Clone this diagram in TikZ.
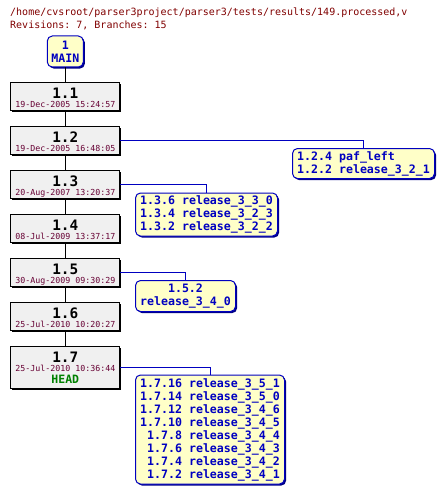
\documentclass[tikz,border=0pt]{standalone}
\usepackage{fontspec}
\setmonofont{DejaVu Sans Mono}
\usetikzlibrary{shadows}
\definecolor{titlecol}{HTML}{800000}
\definecolor{datecol}{HTML}{660033}
\definecolor{brblue}{HTML}{0000C0}
\definecolor{brfill}{HTML}{FFFFC8}
\definecolor{revfill}{HTML}{F0F0F0}
\definecolor{headgreen}{HTML}{008000}
\begin{document}
\begin{tikzpicture}[x=1pt,y=-1pt,
  titletext/.style={anchor=base west, inner sep=0pt, text=titlecol, font=\ttfamily\fontsize{10}{12}\selectfont},
  revbox/.style={draw=black, fill=revfill, line width=1pt, minimum width=109pt, minimum height=28pt, inner sep=0pt,
    drop shadow={shadow xshift=1.6pt, shadow yshift=-1.6pt, fill=black, opacity=1}},
  revnum/.style={anchor=base, inner sep=0pt, text=black, font=\ttfamily\bfseries\fontsize{14.4}{16}\selectfont},
  revdate/.style={anchor=base, inner sep=0pt, text=datecol, font=\ttfamily\fontsize{8.3}{10}\selectfont},
  revtag/.style={anchor=base, inner sep=0pt, text=headgreen, font=\ttfamily\bfseries\fontsize{11.5}{13}\selectfont},
  brbox/.style={draw=brblue, fill=brfill, rounded corners=5pt, line width=1pt, inner sep=0pt,
    drop shadow={shadow xshift=1.6pt, shadow yshift=-1.6pt, fill=brblue!70!black, opacity=1},
    text=brblue, font=\ttfamily\bfseries\fontsize{11.6}{13}\selectfont},
  trunk/.style={draw=black, line width=1pt},
  brline/.style={draw=brblue, line width=1pt}
]
\useasboundingbox (0,0) rectangle (445,495);

% title
\node[titletext] (t1) at (10,16) {/home/cvsroot/parser3project/parser3/tests/results/149.processed,v};
\node[titletext] (t2) at (10,28.3) {Revisions: 7, Branches: 15};

% MAIN
\node[brbox, minimum width=36pt, minimum height=31pt, align=center] (main) at (65.3,51.5) {1\\MAIN};

% revisions
\node[revbox] (r11) at (65.3,96) {};
\node[revnum] (n11) at (65.3,98.3) {1.1};
\node[revdate] (d11) at (65.3,107) {19-Dec-2005 15:24:57};

\node[revbox] (r12) at (65.3,140) {};
\node[revnum] (n12) at (65.3,142.3) {1.2};
\node[revdate] (d12) at (65.3,151) {19-Dec-2005 16:48:05};

\node[revbox] (r13) at (65.3,184) {};
\node[revnum] (n13) at (65.3,186.3) {1.3};
\node[revdate] (d13) at (65.3,195) {20-Aug-2007 13:20:37};

\node[revbox] (r14) at (65.3,228) {};
\node[revnum] (n14) at (65.3,230.3) {1.4};
\node[revdate] (d14) at (65.3,239) {08-Jul-2009 13:37:17};

\node[revbox] (r15) at (65.3,272) {};
\node[revnum] (n15) at (65.3,274.3) {1.5};
\node[revdate] (d15) at (65.3,283) {30-Aug-2009 09:30:29};

\node[revbox] (r16) at (65.3,316) {};
\node[revnum] (n16) at (65.3,318.3) {1.6};
\node[revdate] (d16) at (65.3,327) {25-Jul-2010 10:20:27};

\node[revbox, minimum height=42pt] (r17) at (65.3,367) {};
\node[revnum] (n17) at (65.3,362.3) {1.7};
\node[revdate] (d17) at (65.3,371) {25-Jul-2010 10:36:44};
\node[revtag] (h17) at (65.3,383.3) {HEAD};

% trunk
\draw[trunk] (main) -- (r11);
\draw[trunk] (r11) -- (r12);
\draw[trunk] (r12) -- (r13);
\draw[trunk] (r13) -- (r14);
\draw[trunk] (r14) -- (r15);
\draw[trunk] (r15) -- (r16);
\draw[trunk] (r16) -- (r17);

% branches
\node[brbox, minimum width=142pt, minimum height=30pt, align=left] (b12) at (363.5,163.5) {1.2.4 paf\_left\\1.2.2 release\_3\_2\_1};
\node[brbox, minimum width=142pt, minimum height=43pt, align=left] (b13) at (206.5,214.5) {1.3.6 release\_3\_3\_0\\1.3.4 release\_3\_2\_3\\1.3.2 release\_3\_2\_2};
\node[brbox, minimum width=100pt, minimum height=31pt, align=center] (b15) at (185.5,296) {1.5.2\\release\_3\_4\_0};
\node[brbox, minimum width=149pt, minimum height=109pt, align=right] (b17) at (210,429.5) {1.7.16 release\_3\_5\_1\\1.7.14 release\_3\_5\_0\\1.7.12 release\_3\_4\_6\\1.7.10 release\_3\_4\_5\\1.7.8 release\_3\_4\_4\\1.7.6 release\_3\_4\_3\\1.7.4 release\_3\_4\_2\\1.7.2 release\_3\_4\_1};

\draw[brline] (r12.east) -| (b12.north);
\draw[brline] (r13.east) -| (b13.north);
\draw[brline] (r15.east) -| (b15.north);
\draw[brline] (r17.east) -| (b17.north);
\end{tikzpicture}
\end{document}
